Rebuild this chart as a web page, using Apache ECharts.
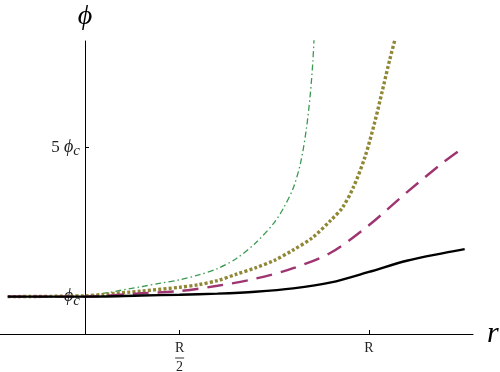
<!DOCTYPE html>
<html>
<head>
<meta charset="utf-8">
<script src="https://cdn.jsdelivr.net/npm/echarts@6/dist/echarts.min.js"></script>
<style>
html, body { margin: 0; padding: 0; background: #fff; }
#chart { width: 500px; height: 372px; }
</style>
</head>
<body>
<div id="chart"></div>
<script>
// r in units of R, phi in units of phi_c
const rBlack = [0.046, 0.25, 0.4, 0.5, 0.6, 0.7, 0.8, 0.9, 1.0, 1.1, 1.2, 1.253];
const phiBlack = [1.0, 1.0, 1.03, 1.05, 1.08, 1.13, 1.22, 1.38, 1.66, 1.96, 2.17, 2.27];

const rDashed = [0.046, 0.25, 0.4, 0.5, 0.6, 0.7, 0.8, 0.9, 1.0, 1.1, 1.2, 1.253];
const phiDashed = [1.0, 1.0, 1.09, 1.15, 1.29, 1.48, 1.76, 2.18, 2.91, 3.79, 4.62, 5.01];

const rDotted = [0.046, 0.25, 0.3, 0.4, 0.5, 0.55, 0.6, 0.65, 0.7, 0.75, 0.8, 0.85, 0.9, 0.93, 0.96, 0.99, 1.015, 1.036, 1.055, 1.08];
const phiDotted = [1.0, 1.02, 1.06, 1.15, 1.25, 1.32, 1.43, 1.6, 1.77, 1.97, 2.25, 2.57, 3.05, 3.38, 3.95, 4.75, 5.65, 6.53, 7.34, 8.3];

const rDashDot = [0.046, 0.24, 0.306, 0.4, 0.45, 0.5, 0.55, 0.6, 0.65, 0.7, 0.75, 0.775, 0.8, 0.82, 0.835, 0.845, 0.852, 0.857];
const phiDashDot = [1.0, 1.0, 1.1, 1.27, 1.36, 1.45, 1.58, 1.75, 2.02, 2.43, 2.98, 3.38, 3.9, 4.6, 5.5, 6.4, 7.3, 8.3];

const xTicks = [0.5, 1];          // R/2, R
const yTicks = [1, 5];            // phi_c, 5 phi_c
const rMin = 0.0255, rMax = 1.275;
const phiMax = 7.84;

const serif = 'Liberation Serif';

function pts(rs, ps) {
  return rs.map((r, i) => [r, ps[i]]);
}

const chart = echarts.init(document.getElementById('chart'));
chart.setOption({
  animation: false,
  grid: { left: 0, right: 27, top: 41, bottom: 38, outerBoundsMode: 'none', containLabel: false },
  xAxis: {
    type: 'value',
    min: rMin,
    max: rMax,
    name: 'r',
    nameLocation: 'end',
    nameGap: 14,
    nameTextStyle: { fontFamily: serif, fontStyle: 'italic', fontSize: 30, color: '#000', verticalAlign: 'middle', padding: [0, 0, 6, 0] },
    axisLine: { lineStyle: { color: '#000', width: 1 } },
    axisTick: { inside: true, length: 4, customValues: xTicks, lineStyle: { color: '#000' } },
    axisLabel: {
      customValues: xTicks,
      margin: 8,
      fontFamily: serif,
      color: '#000',
      formatter: v => (Math.abs(v - 0.5) < 1e-6 ? '{a|R}\n{bar| }\n{a|2}' : '{a|R}'),
      rich: {
        a: { fontFamily: serif, fontSize: 14, color: '#222', lineHeight: 13, align: 'center' },
        bar: { width: 9, height: 1, fontSize: 1, lineHeight: 6, backgroundColor: '#333', align: 'center' }
      }
    },
    splitLine: { show: false }
  },
  yAxis: {
    type: 'value',
    min: 0,
    max: phiMax,
    offset: -85,
    name: 'ϕ',
    nameLocation: 'end',
    nameGap: 10,
    nameTextStyle: { fontFamily: serif, fontStyle: 'italic', fontSize: 28, color: '#000' },
    axisLine: { onZero: false, lineStyle: { color: '#000', width: 1 } },
    axisTick: { inside: true, length: 4, customValues: yTicks, lineStyle: { color: '#000' } },
    axisLabel: {
      customValues: yTicks,
      margin: 5,
      color: '#000',
      formatter: v => (v === 5 ? '{n|5 }{p|ϕ}{s|c}' : '{p|ϕ}{s|c}'),
      rich: {
        n: { fontFamily: serif, fontSize: 17, color: '#222' },
        p: { fontFamily: serif, fontStyle: 'italic', fontSize: 18, color: '#222' },
        s: { fontFamily: serif, fontStyle: 'italic', fontSize: 15, color: '#222', padding: [8, 0, 0, 0] }
      }
    },
    splitLine: { show: false }
  },
  series: [
    {
      type: 'line', data: pts(rBlack, phiBlack), smooth: 0.3, showSymbol: false, z: 5,
      lineStyle: { color: '#000', width: 2.4 }
    },
    {
      type: 'line', data: pts(rDashed, phiDashed), smooth: 0.3, showSymbol: false, z: 4,
      lineStyle: { color: '#9e3571', width: 2.4, type: [16, 9], cap: 'butt' }
    },
    {
      type: 'line', data: pts(rDotted, phiDotted), smooth: 0.3, showSymbol: false, z: 3,
      lineStyle: { color: '#8f8636', width: 3.4, type: [3, 2.2], cap: 'butt' }
    },
    {
      type: 'line', data: pts(rDashDot, phiDashDot), smooth: 0.3, showSymbol: false, z: 2,
      lineStyle: { color: '#3a9a52', width: 1.3, type: [6, 3, 1.5, 3], cap: 'butt' }
    }
  ]
});
</script>
</body>
</html>
